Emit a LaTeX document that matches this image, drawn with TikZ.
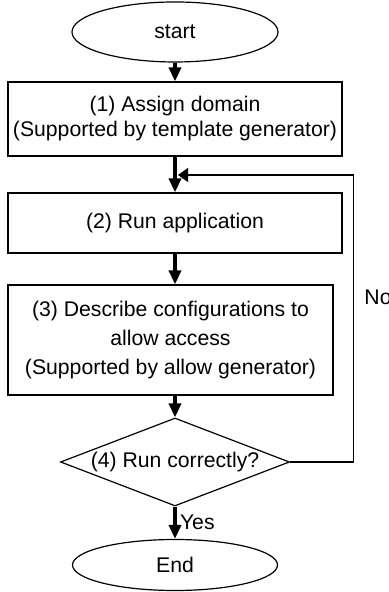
\documentclass[tikz,border=0pt]{standalone}
\usepackage{fontspec}
\setmainfont{Liberation Sans}
\usetikzlibrary{shapes.geometric,arrows.meta}
\begin{document}
\begin{tikzpicture}[x=0.5pt,y=0.5pt,
    font=\fontsize{10.6}{12.5}\selectfont,
    stepbox/.style={draw,rectangle,line width=0.6pt,align=center,inner sep=0pt},
    endbox/.style={draw,ellipse,line width=0.6pt,inner sep=0pt},
    askbox/.style={draw,diamond,line width=0.6pt,inner sep=0pt,shape aspect=2.6},
    flow/.style={line width=2pt,-{Triangle[width=6pt,length=7pt]}},
    back/.style={line width=0.6pt,-{Triangle[width=7pt,length=5pt]}}]

  \useasboundingbox (0,0) rectangle (389,592);

  \node[endbox,minimum width=103pt,minimum height=30pt] (s0) at (175,560) {start};

  \node[stepbox,minimum width=167pt,minimum height=37pt] (b1) at (175,473) {(1) Assign domain\\(Supported by template generator)};

  \node[stepbox,minimum width=167pt,minimum height=30pt] (b2) at (175,369) {(2) Run application};

  \node[stepbox,minimum width=162.5pt,minimum height=55pt] (b3) at (170.5,252) {(3) Describe configurations to\\[1.8pt]allow access\\[1.8pt](Supported by allow generator)};

  \node[askbox,minimum width=114.5pt,minimum height=44pt] (d4) at (175,130) {(4) Run correctly?};

  \node[endbox,minimum width=102.5pt,minimum height=25.5pt] (e5) at (175,27) {End};

  \coordinate (j) at (178,417);
  \node (no) at (378,295) {No};

  \draw[flow] (s0) -- (b1);
  \draw[flow] (b1) -- (b2);
  \draw[flow] (b2) -- (b2.south |- b3.north);
  \draw[flow] (b3.south -| d4.north) -- (d4);
  \draw[flow] (d4) -- node[right,inner sep=1.5pt] {Yes} (e5);

  % loop back when not correct
  \draw[back] (d4.east) -- ++(63,0) |- (j);
\end{tikzpicture}
\end{document}
